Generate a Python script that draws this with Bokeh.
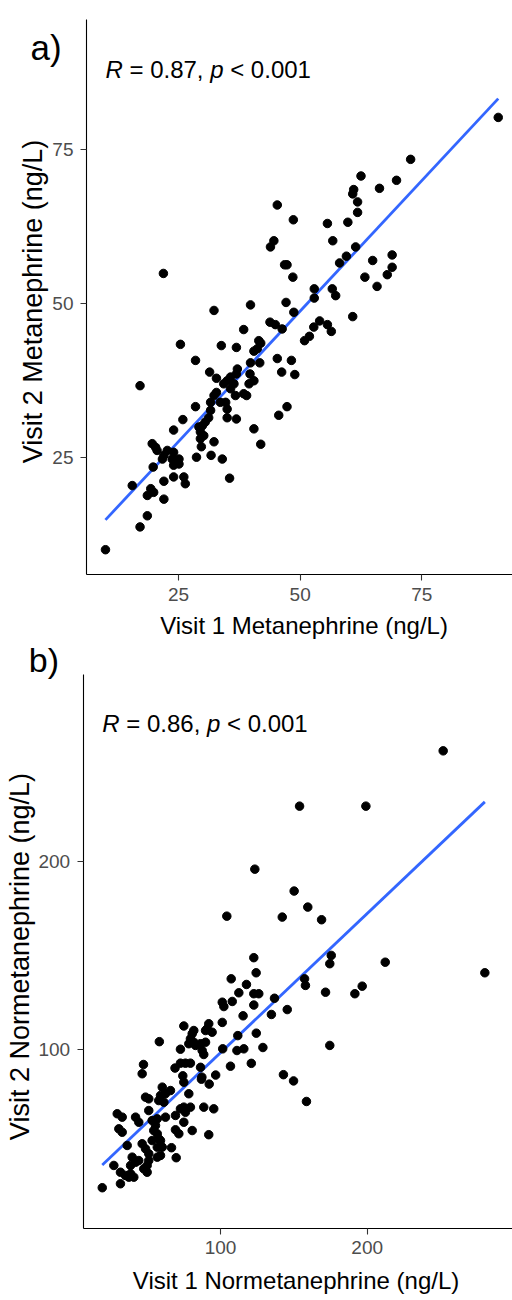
import math
import numpy as np
from bokeh.plotting import figure
from bokeh.models import FixedTicker, Label
from bokeh.layouts import column
from bokeh.embed import file_html
from bokeh.resources import INLINE

# ---------------- data ----------------
meta_v1 = [90.7, 72.7, 69.8, 66.3, 62.5, 61.0, 60.8, 61.8, 61.8, 59.8,
           55.6, 56.7, 45.3, 48.6, 44.6, 43.9, 61.4, 59.5, 58.1, 46.8,
           47.3, 48.5, 64.9, 68.9, 68.9, 67.9, 63.3, 65.8, 21.9, 56.6,
           57.3, 52.9, 52.9, 47.1, 39.8, 32.3, 48.7, 60.8,
           43.8, 44.9, 46.3, 38.4, 52.8, 54.0, 55.6, 56.4, 50.9, 51.9,
           25.4, 33.8, 36.9, 41.9, 41.2, 40.5, 41.5, 45.3, 48.2, 46.2,
           48.9, 28.5, 39.8, 41.7, 31.4, 32.8, 37.1, 36.9, 35.7, 35.0,
           34.3, 36.4, 35.7, 36.7, 39.7, 40.5, 39.5, 39.0, 38.4, 32.8,
           32.3, 31.6, 33.6, 34.7, 28.5, 35.0, 35.0, 36.9, 31.6, 31.2,
           30.5, 29.9, 29.2, 29.5, 30.2, 29.5, 29.7, 25.9, 24.0, 32.3,
           40.5, 41.9, 45.6, 47.3, 19.6, 20.3, 20.6, 22.7, 22.0, 21.7,
           24.0, 23.7, 24.4, 25.1, 24.0, 25.1, 28.7, 31.7, 34.0, 19.8,
           24.0, 26.1, 26.4, 22.0, 35.5, 15.5, 19.3, 19.9, 18.6, 22.0,
           17.1, 18.6, 17.1, 10.0]
meta_v2 = [80.2, 73.4, 70.0, 68.7, 70.7, 68.5, 67.8, 66.5, 64.8, 63.2,
           63.0, 60.2, 66.0, 63.6, 60.2, 59.2, 59.2, 57.7, 56.6, 56.3,
           56.3, 54.3, 57.0, 57.9, 55.9, 54.7, 54.3, 52.8, 54.9, 52.4,
           51.3, 52.4, 50.9, 50.2, 49.8, 48.9, 48.6, 47.9,
           47.0, 46.6, 45.9, 45.8, 46.2, 47.2, 46.6, 45.5, 44.0, 44.7,
           43.4, 43.2, 42.9, 43.6, 42.7, 42.3, 44.0, 41.1, 40.8, 38.9,
           38.5, 40.8, 40.4, 40.4, 38.9, 37.9, 39.4, 38.6, 38.1, 37.5,
           37.0, 37.0, 36.2, 35.1, 38.6, 37.5, 37.0, 35.1, 35.4, 35.6,
           35.1, 34.0, 34.0, 34.0, 33.3, 32.9, 31.5, 31.3, 32.7, 31.5,
           30.8, 30.2, 30.0, 29.2, 28.6, 28.1, 26.8, 31.2, 29.5, 27.6,
           29.7, 27.2, 31.9, 33.3, 27.3, 26.7, 26.2, 26.2, 25.4, 24.8,
           25.9, 24.8, 24.3, 24.8, 23.8, 24.0, 25.1, 25.4, 24.8, 23.5,
           21.9, 21.9, 20.8, 21.2, 21.7, 20.5, 20.0, 19.4, 18.9, 18.3,
           36.7, 15.6, 13.8, 10.1]

norm_v1 = [251.8, 153.9, 199.1, 123.4, 150.2, 159.5, 104.3, 142.1, 168.9, 122.7,
           124.3, 175.5, 174.5, 212.3, 280.2, 107.3, 157.3,
           157.9, 117.7, 112.5, 122.7, 126.1, 171.6, 191.6, 196.6, 174.5, 136.8,
           145.5, 134.7, 101.2, 102.3, 108.0, 122.7, 115.4, 101.2, 124.4, 111.8,
           92.0, 90.9, 94.3, 89.8, 75.0, 81.8, 80.7, 79.5, 81.8, 78.4,
           83.0, 86.4, 89.8, 87.5, 88.6, 58.3, 72.7, 101.5, 111.2, 115.9,
           128.9, 121.0, 106.8, 47.5, 46.6, 72.7, 76.1, 79.5, 69.0, 86.4,
           74.3, 75.0, 87.3, 87.0, 96.7, 92.3, 142.9, 149.8, 158.6,
           60.3, 65.9, 62.5, 59.1, 57.9, 61.4, 78.4, 48.9, 51.1, 51.1,
           29.6, 33.0, 42.1, 44.3, 53.4, 56.9, 55.7, 54.5, 56.9, 57.9,
           62.5, 72.7, 75.0, 79.5, 76.1, 69.3, 88.6, 95.4, 75.0, 69.3,
           71.6, 80.7, 92.0, 30.7, 33.0, 36.4, 46.6, 48.9, 51.1, 53.4,
           56.9, 59.1, 60.3, 59.1, 56.9, 66.6, 69.8, 39.8, 42.1, 38.7,
           44.3, 51.1, 50.0, 47.7, 50.0, 27.3, 31.8, 35.2, 38.7, 37.5,
           40.9, 31.8, 19.4]
norm_v2 = [258.4, 229.1, 229.1, 195.7, 184.1, 175.6, 170.8, 170.3, 168.9, 148.8,
           140.8, 150.0, 145.6, 146.4, 140.8, 137.6, 137.6,
           134.1, 134.6, 130.2, 129.7, 129.7, 130.5, 129.7, 133.7, 102.3, 127.3,
           121.3, 118.7, 125.2, 122.9, 125.6, 123.7, 118.0, 114.5, 108.8, 107.5,
           113.8, 111.1, 109.3, 110.2, 112.6, 110.2, 108.5, 105.8, 104.0, 103.2,
           102.3, 103.2, 104.0, 99.6, 97.5, 104.3, 100.3, 100.5, 99.6, 100.5,
           101.2, 92.8, 91.3, 92.2, 87.3, 92.9, 92.9, 92.9, 90.3, 90.7,
           86.2, 82.8, 85.5, 84.4, 86.6, 81.8, 86.8, 83.5, 72.6,
           80.2, 78.4, 76.7, 75.8, 73.1, 72.2, 76.7, 74.9, 74.0, 67.8,
           66.1, 64.3, 64.3, 61.6, 62.5, 63.4, 59.9, 57.2, 55.5, 52.8,
           64.3, 68.7, 69.6, 69.6, 66.9, 65.2, 69.6, 68.7, 61.6, 57.6,
           55.5, 57.2, 55.0, 58.1, 56.3, 49.3, 50.2, 47.5, 44.9, 51.9,
           48.4, 51.9, 48.4, 44.0, 43.1, 48.1, 42.8, 43.1, 40.4, 38.7,
           41.3, 41.3, 38.7, 36.9, 35.1, 38.7, 35.1, 33.4, 34.3, 32.5,
           32.5, 29.0, 26.9]

meta_ticks = [25, 50, 75]
norm_ticks = [100, 200]
panel_tags = ["a)", "b)"]
r_values = ["0.87", "0.86"]
p_value_text = "< 0.001"
x_titles = ["Visit 1 Metanephrine (ng/L)", "Visit 1 Normetanephrine (ng/L)"]
y_titles = ["Visit 2 Metanephrine (ng/L)", "Visit 2 Normetanephrine (ng/L)"]

FONT = "Liberation Sans"
LINE_BLUE = "#3366FF"
BASE_SHIFT = 0.3465  # em: Label anchors at the text middle; lift to baseline


def text_label(x, y, text, size_px, style="normal", vertical=False,
               align="left", x_offset=0.0):
    shift = BASE_SHIFT * size_px
    if vertical:
        return Label(x=x, y=y, x_offset=x_offset - shift, text=text,
                     text_font=FONT, text_font_size=f"{size_px}px",
                     text_font_style=style, text_color="black",
                     text_baseline="alphabetic", text_align=align,
                     angle=math.pi / 2)
    return Label(x=x, y=y, x_offset=x_offset, y_offset=shift, text=text,
                 text_font=FONT, text_font_size=f"{size_px}px",
                 text_font_style=style, text_color="black",
                 text_baseline="alphabetic", text_align=align)


def make_panel(xs, ys, ticks, view_x, view_y, axis_x, axis_y, height,
               tag, tag_pos, tag_size, r_text, ann_pos, xtitle, xt_pos,
               ytitle, yt_pos):
    # the frame covers the whole canvas; the axes are pinned inside it
    p = figure(width=512, height=height, x_range=view_x, y_range=view_y,
               output_backend="svg", toolbar_location=None,
               min_border_left=0, min_border_right=0,
               min_border_top=0, min_border_bottom=0)
    p.background_fill_color = "white"
    p.border_fill_color = "white"
    p.outline_line_color = None
    p.grid.visible = False

    p.xaxis.ticker = FixedTicker(ticks=ticks)
    p.yaxis.ticker = FixedTicker(ticks=ticks)
    p.xaxis.bounds = axis_x
    p.yaxis.bounds = axis_y
    p.yaxis.fixed_location = axis_x[0]
    p.xaxis.fixed_location = axis_y[0]
    for ax in (p.xaxis, p.yaxis):
        ax.axis_line_color = "black"
        ax.axis_line_width = 1.1
        ax.major_tick_in = 0
        ax.major_tick_out = 6
        ax.major_tick_line_color = "#333333"
        ax.major_tick_line_width = 1.1
        ax.minor_tick_line_color = None
        ax.major_label_text_color = "#4D4D4D"
        ax.major_label_text_font = FONT
        ax.major_label_text_font_size = "19px"
    p.xaxis.major_label_standoff = 7
    p.yaxis.major_label_standoff = 7

    # linear fit drawn over the data range
    slope, intercept = np.polyfit(xs, ys, 1)
    fx = np.array([min(xs), max(xs)])
    p.line(fx, slope * fx + intercept, line_color=LINE_BLUE, line_width=2.8)

    p.scatter(xs, ys, size=8.5, fill_color="black", line_color="black")

    # axis titles
    p.add_layout(text_label(xt_pos[0], xt_pos[1], xtitle, 24, align="center"))
    p.add_layout(text_label(yt_pos[0], yt_pos[1], ytitle, 27, vertical=True,
                            align="center"))

    # panel tag
    p.add_layout(text_label(tag_pos[0], tag_pos[1], tag, tag_size))

    # correlation annotation
    ax0, ay0 = ann_pos
    pieces = [("R", "italic", 0), ("= " + r_text + ",", "normal", 24.0),
              ("p", "italic", 104.7), (p_value_text, "normal", 124.7)]
    for txt, style, off in pieces:
        p.add_layout(text_label(ax0, ay0, txt, 24, style=style, x_offset=off))
    return p


pa = make_panel(meta_v1, meta_v2, meta_ticks,
                (-11.57, 93.63), (-4.46, 99.16),
                (6.10, 93.63), (6.08, 96.08), 639,
                panel_tags[0], (-5.4, 89.5), 35, r_values[0], (10.0, 86.6),
                x_titles[0], (50.8, -3.535), y_titles[0], (-3.0, 50.35))
pb = make_panel(norm_v1, norm_v2, norm_ticks,
                (-49.97, 299.05), (-32.86, 317.4),
                (6.4, 299.05), (5.46, 298.9), 661,
                panel_tags[1], (-30.7, 300.5), 34, r_values[1], (19.4, 268.3),
                x_titles[1], (151.5, -26.66), y_titles[1], (-30.0, 149.4))

layout = column(pa, pb, spacing=0)
open("out.html", "w").write(file_html(layout, INLINE))
